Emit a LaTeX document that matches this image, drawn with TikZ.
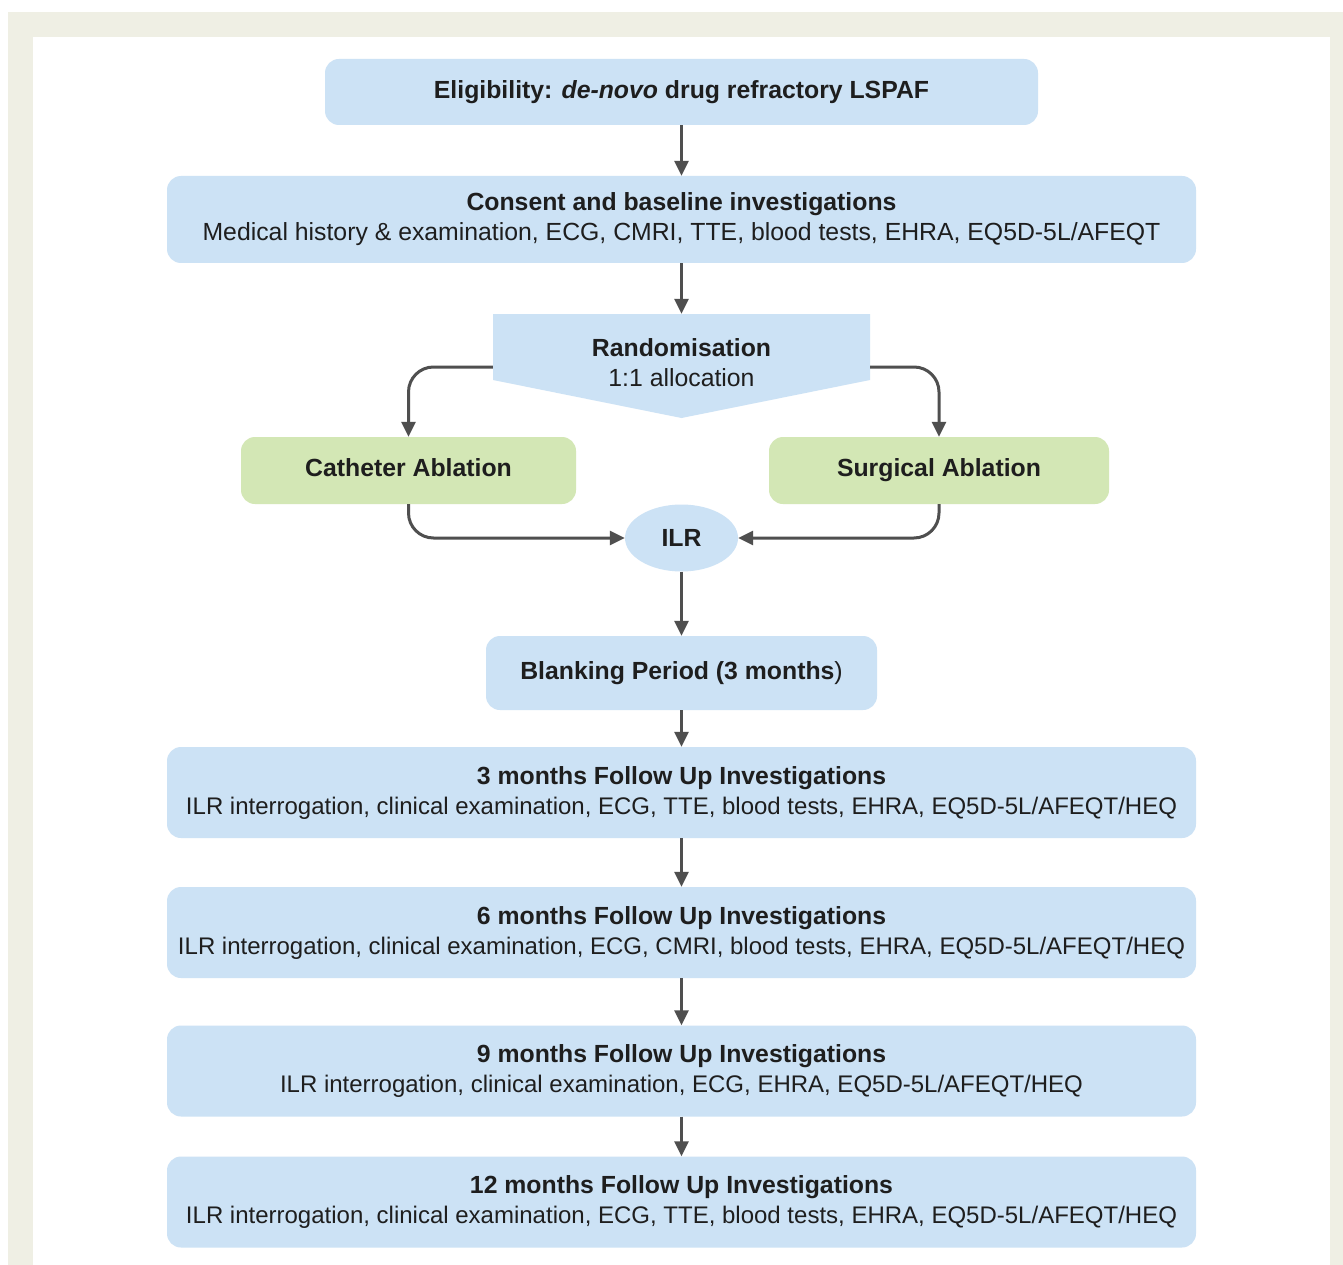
\documentclass[tikz,border=0pt]{standalone}
\usepackage{fontspec}
\setmainfont{Liberation Sans}
\usetikzlibrary{shapes.geometric,arrows.meta}

\definecolor{boxblue}{HTML}{CCE2F5}
\definecolor{boxgreen}{HTML}{D3E7B5}
\definecolor{framebeige}{HTML}{EFEFE4}
\definecolor{arrowgrey}{HTML}{4F4F4F}
\definecolor{textblack}{HTML}{1E1E1E}

\newcommand{\fuline}[1]{{\fontsize{24}{30}\selectfont #1}}

\tikzset{
  bluebox/.style={rectangle, rounded corners=14pt, fill=boxblue, align=center, text=textblack, inner sep=0pt},
  greenbox/.style={bluebox, fill=boxgreen, text height=17pt, text depth=5pt},
  link/.style={draw=arrowgrey, line width=3pt, -{Triangle[length=15pt,width=14pt]}},
}

\begin{document}
\begin{tikzpicture}[x=1pt, y=-1pt, font=\fontsize{24.8}{30}\selectfont]
    \useasboundingbox (0,0) rectangle (1343,1265);
    \fill[white] (0,0) rectangle (1343,1265);
    \fill[framebeige] (8,12) rectangle (1343,1265);
    \fill[white] (33,37) rectangle (1330,1265);

    \node[bluebox, minimum width=713pt, minimum height=66pt] (elig) at (681.5,92) {\textbf{Eligibility: \textit{de-novo} drug refractory LSPAF}};
    \node[bluebox, minimum width=1029pt, minimum height=87pt] (consent) at (681.5,219.5) {\textbf{Consent and baseline investigations}\\Medical history \& examination, ECG, CMRI, TTE, blood tests, EHRA, EQ5D-5L/AFEQT};

    \fill[boxblue] (493,314) -- (870,314) -- (870,380) -- (681.5,418) -- (493,380) -- cycle;
    \node[align=center, text=textblack, minimum width=377pt, minimum height=98pt, inner sep=0pt] (rand) at (681.5,363) {\textbf{Randomisation}\\1:1 allocation};

    \node[greenbox, minimum width=335pt, minimum height=67pt] (cath) at (408.5,470.5) {\textbf{Catheter Ablation}};
    \node[greenbox, minimum width=340pt, minimum height=67pt] (surg) at (939,470.5) {\textbf{Surgical Ablation}};
    \node[ellipse, fill=boxblue, text=textblack, minimum width=113pt, minimum height=67pt, inner sep=0pt] (ilr) at (681.5,538) {\textbf{ILR}};

    \node[bluebox, minimum width=391pt, minimum height=74pt] (blank) at (681.5,673) {\textbf{Blanking Period (3 months})};
    \node[bluebox, minimum width=1029pt, minimum height=91pt] (fu3) at (681.5,792.5) {\textbf{3 months Follow Up Investigations}\\\fuline{ILR interrogation, clinical examination, ECG, TTE, blood tests, EHRA, EQ5D-5L/AFEQT/HEQ}};
    \node[bluebox, minimum width=1029pt, minimum height=91pt] (fu6) at (681.5,932.5) {\textbf{6 months Follow Up Investigations}\\\fuline{ILR interrogation, clinical examination, ECG, CMRI, blood tests, EHRA, EQ5D-5L/AFEQT/HEQ}};
    \node[bluebox, minimum width=1029pt, minimum height=91pt] (fu9) at (681.5,1071) {\textbf{9 months Follow Up Investigations}\\\fuline{ILR interrogation, clinical examination, ECG, EHRA, EQ5D-5L/AFEQT/HEQ}};
    \node[bluebox, minimum width=1029pt, minimum height=91pt] (fu12) at (681.5,1202) {\textbf{12 months Follow Up Investigations}\\\fuline{ILR interrogation, clinical examination, ECG, TTE, blood tests, EHRA, EQ5D-5L/AFEQT/HEQ}};

    % arrows
    \draw[link] (elig) -- (consent);
    \draw[link] (consent) -- (rand);
    \draw[link, rounded corners=25pt] ([yshift=-4pt]rand.west) -| (cath);
    \draw[link, rounded corners=25pt] ([yshift=-4pt]rand.east) -| (surg);
    \draw[link, rounded corners=25pt] (cath) |- (ilr);
    \draw[link, rounded corners=25pt] (surg) |- (ilr);
    \draw[link] (ilr) -- (blank);
    \draw[link] (blank) -- (fu3);
    \draw[link] (fu3) -- (fu6);
    \draw[link] (fu6) -- (fu9);
    \draw[link] (fu9) -- (fu12);
\end{tikzpicture}
\end{document}
